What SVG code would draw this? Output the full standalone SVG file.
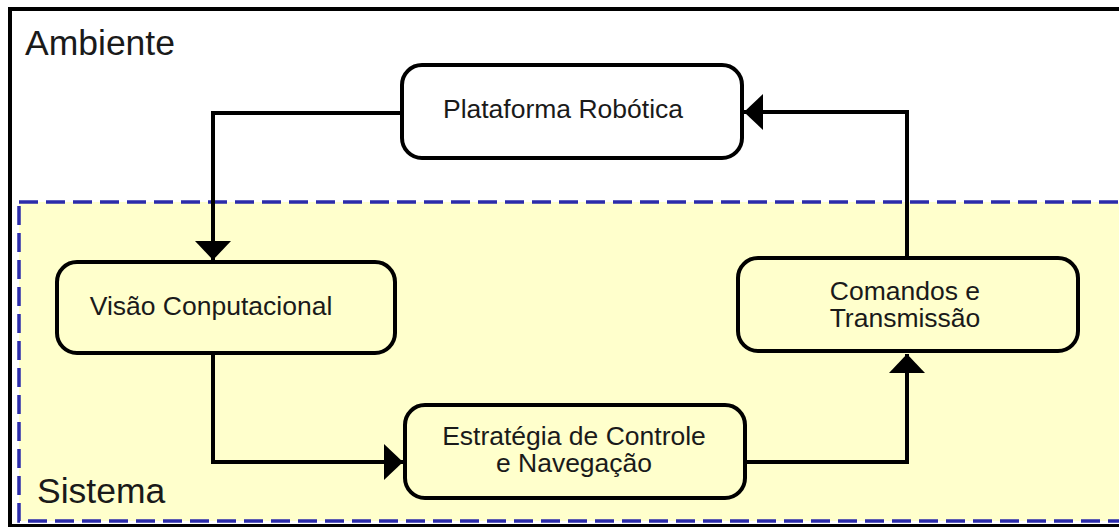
<svg xmlns="http://www.w3.org/2000/svg" width="1119" height="527" viewBox="0 0 1119 527">
<style>
.lbl{font-family:"Liberation Sans",Arial,sans-serif;fill:#1a1a1a}
.big{font-size:35.5px}
.nt{font-size:26.5px;text-anchor:middle}
.box{stroke:#000;stroke-width:4}
.conn{fill:none;stroke:#000;stroke-width:4;stroke-linejoin:miter}
</style>
<defs>
<marker id="ah" markerUnits="userSpaceOnUse" markerWidth="20" markerHeight="38" refX="19" refY="18" orient="auto">
<path d="M0,0 L19,18 L0,36 z" fill="#000"/>
</marker>
</defs>
<rect width="1119" height="527" fill="#fff"/>
<g id="ambiente">
<rect x="10" y="9" width="1120" height="517" fill="#fff" stroke="#000" stroke-width="4"/>
<text class="lbl big" x="25" y="55">Ambiente</text>
</g>
<g id="sistema">
<rect x="19" y="202" width="1110" height="319" fill="#ffffcc" stroke="#2b2bab" stroke-width="3.5" stroke-dasharray="19 8"/>
<text class="lbl big" x="37" y="503">Sistema</text>
</g>
<g id="connectors">
<path class="conn" d="M402,113 H213 V260" marker-end="url(#ah)"/>
<path class="conn" d="M213,353 V462 H403" marker-end="url(#ah)"/>
<path class="conn" d="M745,462 H907 V354" marker-end="url(#ah)"/>
<path class="conn" d="M907,258 V112 H744" marker-end="url(#ah)"/>
</g>
<g id="plataforma">
<rect class="box" x="402" y="65" width="340" height="93" rx="20" fill="#fff"/>
<text class="lbl nt" x="563" y="118">Plataforma Robótica</text>
</g>
<g id="visao">
<rect class="box" x="57" y="262" width="338" height="91" rx="20" fill="#ffffcc"/>
<text class="lbl nt" x="211" y="315">Visão Conputacional</text>
</g>
<g id="estrategia">
<rect class="box" x="405" y="405" width="340" height="93" rx="20" fill="#ffffcc"/>
<text class="lbl nt" x="574" y="445">Estratégia de Controle</text>
<text class="lbl nt" x="574" y="472">e Navegação</text>
</g>
<g id="comandos">
<rect class="box" x="738" y="258" width="340" height="93" rx="20" fill="#ffffcc"/>
<text class="lbl nt" x="905" y="300">Comandos e</text>
<text class="lbl nt" x="905" y="327">Transmissão</text>
</g>
</svg>
